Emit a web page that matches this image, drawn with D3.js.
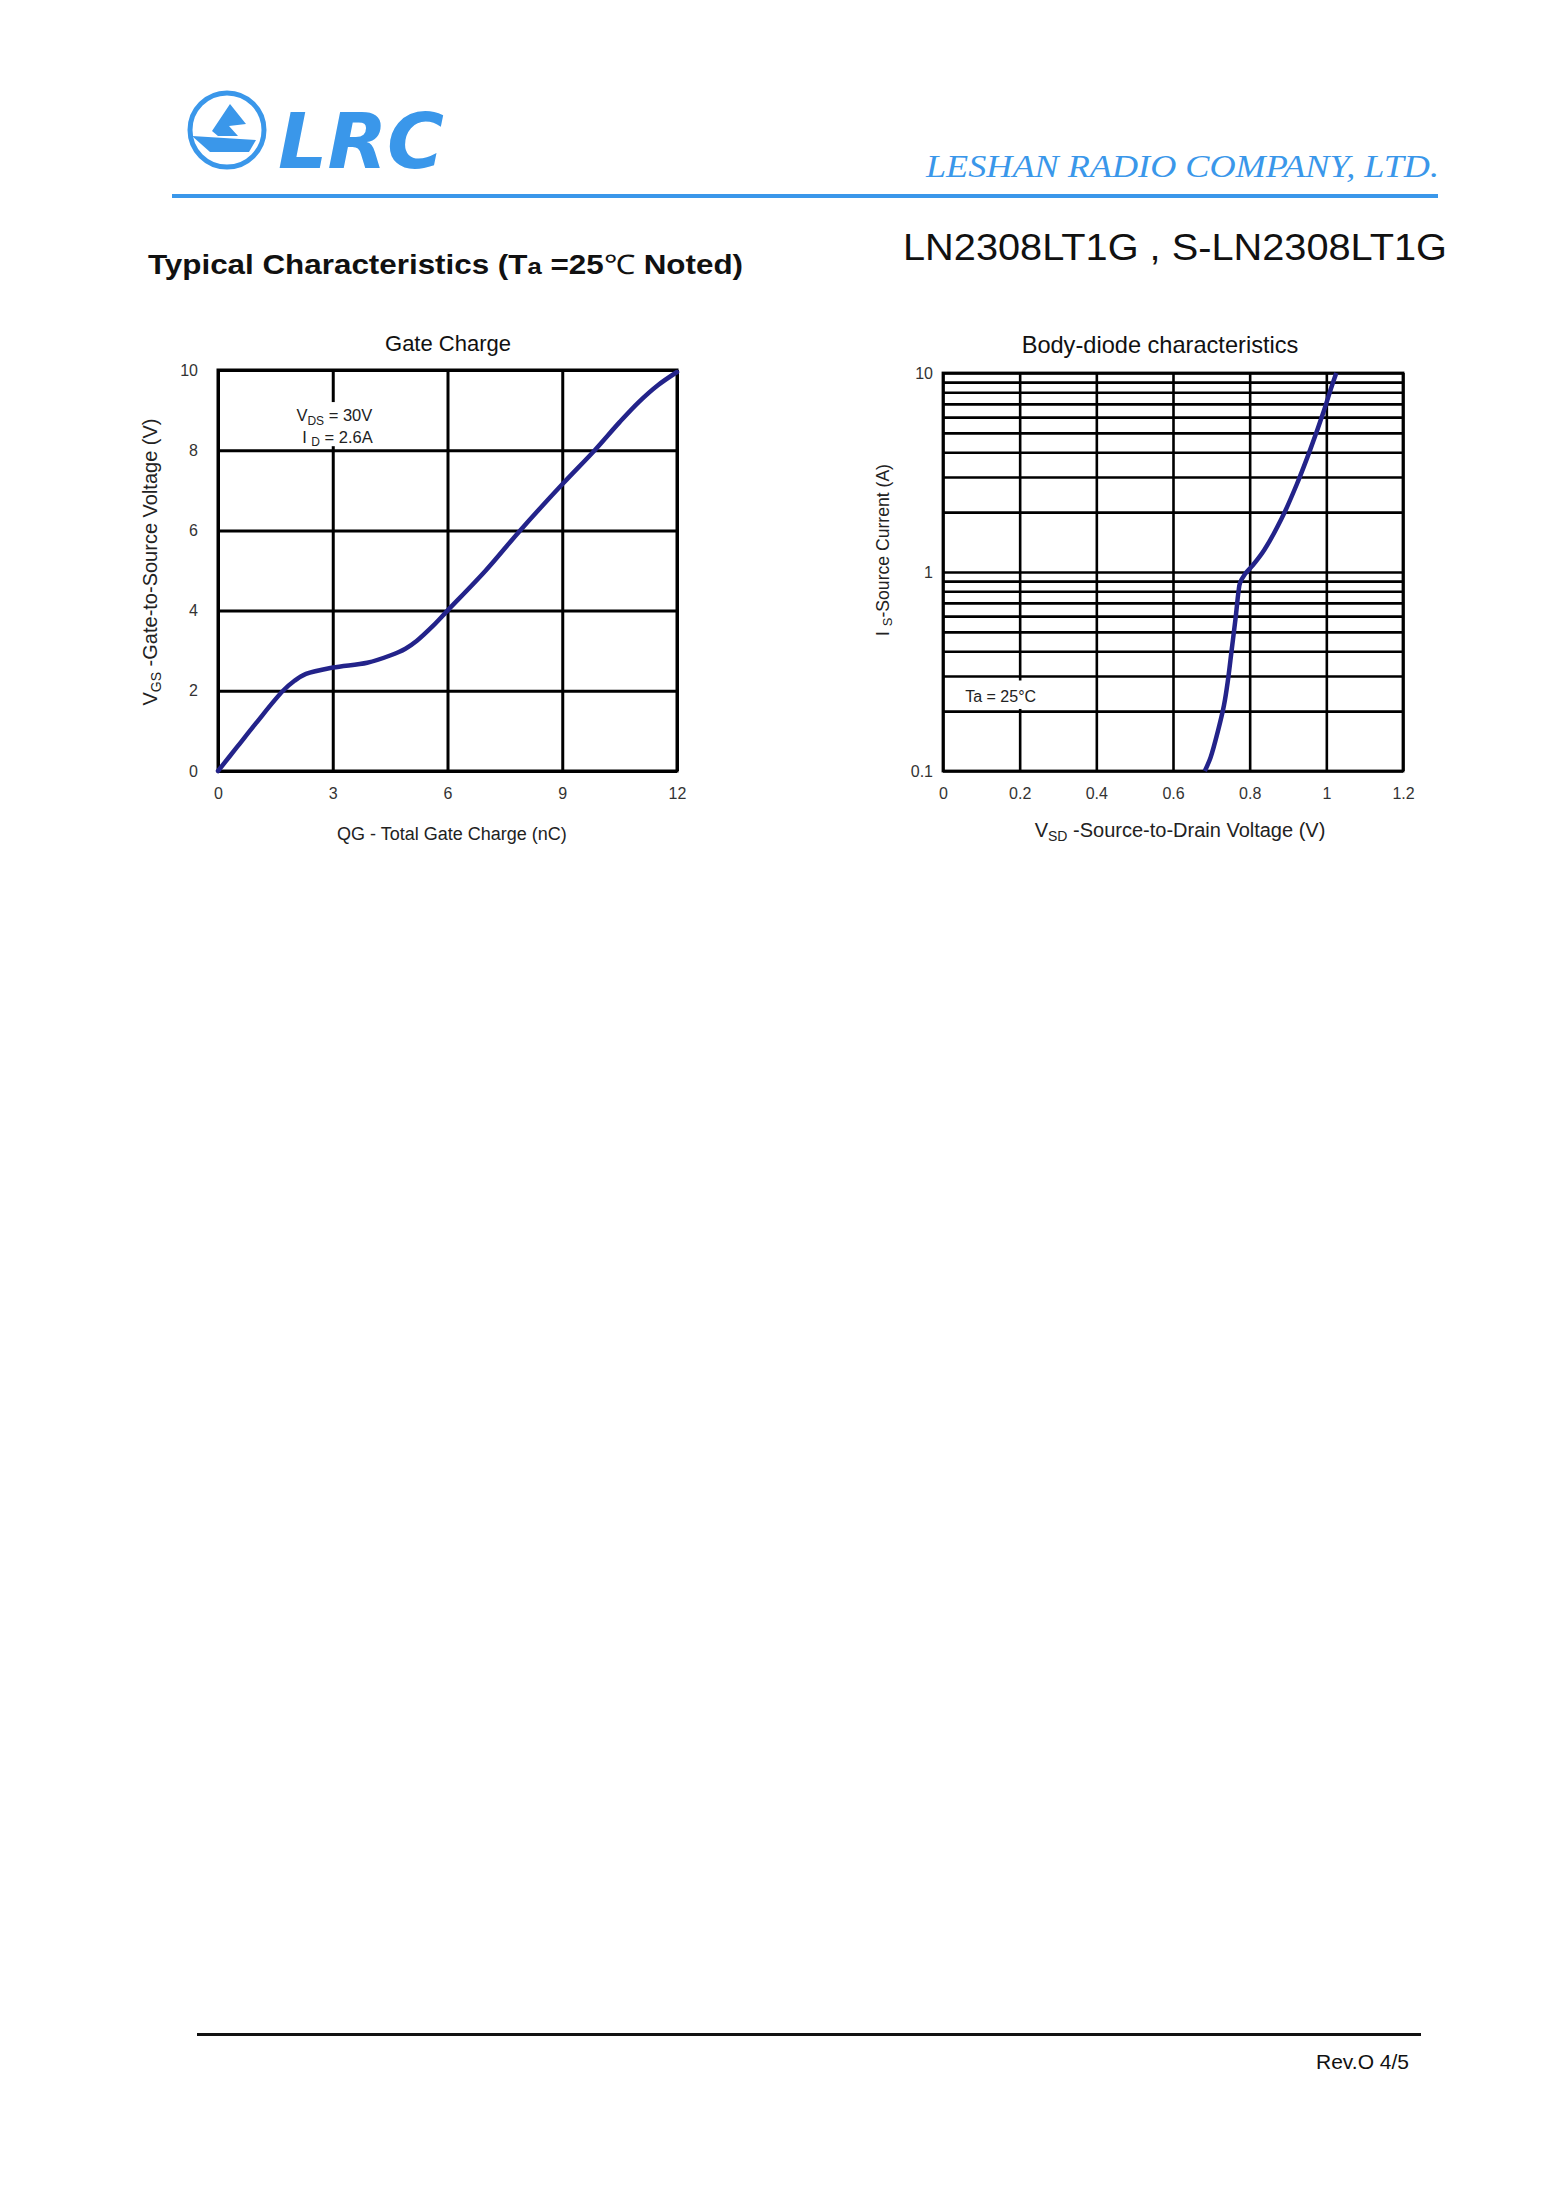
<!DOCTYPE html>
<html>
<head>
<meta charset="utf-8">
<script src="https://cdn.jsdelivr.net/npm/d3@7"></script>
<style>
  html,body{margin:0;padding:0;background:#fff;}
  svg{display:block;}
</style>
</head>
<body>
<svg id="page" width="1555" height="2187"></svg>
<script>
// ---------- DATA ----------
const gateXTicks = [0, 3, 6, 9, 12];
const gateYTicks = [0, 2, 4, 6, 8, 10];
const gateQ   = [0, 0.5, 1.0, 1.7, 2.0, 2.3, 3.0, 3.9, 4.5, 4.9, 5.2, 5.6, 6.0, 7.0, 7.9, 9.0, 9.85, 10.5, 11.0, 11.5, 12.0];
const gateVgs = [0, 0.6, 1.2, 2.0, 2.25, 2.42, 2.58, 2.7, 2.88, 3.05, 3.25, 3.6, 4.0, 5.0, 6.0, 7.15, 8.0, 8.7, 9.2, 9.62, 9.95];

const diodeXTicks = [0, 0.2, 0.4, 0.6, 0.8, 1.0, 1.2];
const diodeXLabels = ["0", "0.2", "0.4", "0.6", "0.8", "1", "1.2"];
const diodeYLabelTicks = [0.1, 1, 10];
const diodeVsd = [0.683, 0.698, 0.718, 0.733, 0.743, 0.753, 0.763, 0.771, 0.775, 0.788, 0.808, 0.838, 0.883, 0.923, 0.958, 0.993, 1.013, 1.026];
const diodeIs  = [0.1, 0.117, 0.161, 0.214, 0.283, 0.405, 0.58, 0.80, 0.883, 0.977, 1.08, 1.29, 1.85, 2.76, 4.12, 6.4, 8.45, 10];

// ---------- PAGE ----------
const svg = d3.select("#page");
const BLUE = "#3a97ea";
const CURVE = "#23238a";
const SANS = "'Liberation Sans', Arial, sans-serif";

// Logo
const logo = svg.append("g");
logo.append("circle").attr("cx", 227).attr("cy", 130).attr("r", 37)
  .attr("fill", "none").attr("stroke", BLUE).attr("stroke-width", 5);
logo.append("path")
  .attr("d", "M230,104 L246,124 L229,126 L238,136 L218,136 L212,131 Z")
  .attr("fill", BLUE);
logo.append("path")
  .attr("d", "M192,136 L256,140 L249,152 L210,152 Z")
  .attr("fill", BLUE);
logo.append("text").attr("x", 278).attr("y", 168)
  .attr("font-family", "'DejaVu Sans', sans-serif").attr("font-weight", "bold")
  .attr("font-style", "italic").attr("font-size", 76)
  .attr("textLength", 166).attr("lengthAdjust", "spacingAndGlyphs")
  .attr("fill", BLUE).text("LRC");

svg.append("text").attr("x", 926).attr("y", 177)
  .attr("font-family", "'Liberation Serif', 'Times New Roman', serif")
  .attr("font-style", "italic").attr("font-size", 31)
  .attr("textLength", 513).attr("lengthAdjust", "spacingAndGlyphs")
  .attr("fill", BLUE).text("LESHAN RADIO COMPANY, LTD.");

svg.append("rect").attr("x", 172).attr("y", 194).attr("width", 1266).attr("height", 4).attr("fill", BLUE);

svg.append("text").attr("x", 903).attr("y", 260)
  .attr("font-family", SANS).attr("font-size", 36)
  .attr("textLength", 544).attr("lengthAdjust", "spacingAndGlyphs")
  .attr("fill", "#111").text("LN2308LT1G , S-LN2308LT1G");

const tc = svg.append("text").attr("x", 148).attr("y", 274)
  .attr("font-family", SANS).attr("font-weight", "bold").attr("font-size", 27)
  .attr("textLength", 595).attr("lengthAdjust", "spacingAndGlyphs")
  .attr("fill", "#111");
tc.append("tspan").text("Typical Characteristics (T");
tc.append("tspan").attr("font-size", 22).text("a");
tc.append("tspan").text(" =25");
tc.append("tspan").attr("font-weight", "normal").text("℃");
tc.append("tspan").text(" Noted)");

// Footer
svg.append("rect").attr("x", 197).attr("y", 2033).attr("width", 1224).attr("height", 3).attr("fill", "#111");
svg.append("text").attr("x", 1409).attr("y", 2069).attr("text-anchor", "end")
  .attr("font-family", SANS).attr("font-size", 21).attr("fill", "#111").text("Rev.O 4/5");

// ---------- GATE CHARGE CHART ----------
const gL = 218, gR = 677, gT = 370, gB = 771;
const xG = d3.scaleLinear().domain([0, 12]).range([gL, gR]);
const yG = d3.scaleLinear().domain([0, 10]).range([gB, gT]);

const g1 = svg.append("g");
g1.append("g").attr("transform", `translate(0,${gB})`)
  .call(d3.axisBottom(xG).tickValues(gateXTicks).tickSize(-(gB - gT)).tickFormat(""))
  .call(a => a.select(".domain").remove())
  .call(a => a.selectAll("line").attr("stroke", "#000").attr("stroke-width", 3));
g1.append("g").attr("transform", `translate(${gL},0)`)
  .call(d3.axisLeft(yG).tickValues(gateYTicks).tickSize(-(gR - gL)).tickFormat(""))
  .call(a => a.select(".domain").remove())
  .call(a => a.selectAll("line").attr("stroke", "#000").attr("stroke-width", 3));
g1.append("rect").attr("x", gL).attr("y", gT).attr("width", gR - gL).attr("height", gB - gT)
  .attr("fill", "none").attr("stroke", "#000").attr("stroke-width", 3);

// annotation (white background interrupts grid)
g1.append("rect").attr("x", xG(2.05)).attr("y", yG(9.2)).attr("width", xG(4.2) - xG(2.05))
  .attr("height", yG(8.1) - yG(9.2)).attr("fill", "#fff");
const ann1 = g1.append("text").attr("x", xG(2.05)).attr("y", yG(8.72))
  .attr("font-family", SANS).attr("font-size", 16.5).attr("fill", "#222");
ann1.append("tspan").text("V");
ann1.append("tspan").attr("font-size", 12).attr("dy", 4).text("DS");
ann1.append("tspan").attr("dy", -4).text(" = 30V");
const ann2 = g1.append("text").attr("x", xG(2.2)).attr("y", yG(8.18))
  .attr("font-family", SANS).attr("font-size", 16.5).attr("fill", "#222");
ann2.append("tspan").text("I ");
ann2.append("tspan").attr("font-size", 12).attr("dy", 3).text("D");
ann2.append("tspan").attr("dy", -3).text("  = 2.6A");

const gatePts = gateQ.map((q, i) => [q, gateVgs[i]]);
g1.append("path").datum(gatePts)
  .attr("d", d3.line().x(d => xG(d[0])).y(d => yG(d[1])).curve(d3.curveCatmullRom.alpha(0.5)))
  .attr("fill", "none").attr("stroke", CURVE).attr("stroke-width", 4.5)
  .attr("stroke-linecap", "round");

g1.append("g").attr("transform", `translate(0,${gB})`)
  .call(d3.axisBottom(xG).tickValues(gateXTicks).tickSize(0).tickPadding(17).tickFormat(d3.format("d")))
  .call(a => a.select(".domain").remove())
  .call(a => a.selectAll("text").attr("font-family", SANS).attr("font-size", 16).attr("fill", "#333"));
g1.append("g").attr("transform", `translate(${gL},0)`)
  .call(d3.axisLeft(yG).tickValues(gateYTicks).tickSize(0).tickPadding(20).tickFormat(d3.format("d")))
  .call(a => a.select(".domain").remove())
  .call(a => a.selectAll("text").attr("font-family", SANS).attr("font-size", 16).attr("fill", "#333"));

g1.append("text").attr("x", 448).attr("y", 351).attr("text-anchor", "middle")
  .attr("font-family", SANS).attr("font-size", 22).attr("fill", "#111").text("Gate Charge");
g1.append("text").attr("x", 452).attr("y", 840).attr("text-anchor", "middle")
  .attr("font-family", SANS).attr("font-size", 18).attr("fill", "#222").text("QG - Total Gate Charge (nC)");
const yl1 = g1.append("text").attr("transform", "translate(157,562) rotate(-90)").attr("text-anchor", "middle")
  .attr("font-family", SANS).attr("font-size", 20).attr("fill", "#222");
yl1.append("tspan").text("V");
yl1.append("tspan").attr("font-size", 14).attr("dy", 4).text("GS");
yl1.append("tspan").attr("dy", -4).text("  -Gate-to-Source Voltage (V)");

// ---------- BODY DIODE CHART ----------
const bL = 943, bR = 1403, bT = 373, bB = 771;
const xB = d3.scaleLinear().domain([0, 1.2]).range([bL, bR]);
const yB = d3.scaleLog().domain([0.1, 10]).range([bB, bT]);

const g2 = svg.append("g");
g2.append("g").attr("transform", `translate(0,${bB})`)
  .call(d3.axisBottom(xB).tickValues(diodeXTicks).tickSize(-(bB - bT)).tickFormat(""))
  .call(a => a.select(".domain").remove())
  .call(a => a.selectAll("line").attr("stroke", "#000").attr("stroke-width", 2.6));
g2.append("g").attr("transform", `translate(${bL},0)`)
  .call(d3.axisLeft(yB).tickValues(yB.ticks()).tickSize(-(bR - bL)).tickFormat(""))
  .call(a => a.select(".domain").remove())
  .call(a => a.selectAll("line").attr("stroke", "#000").attr("stroke-width", 2.6));
g2.append("rect").attr("x", bL).attr("y", bT).attr("width", bR - bL).attr("height", bB - bT)
  .attr("fill", "none").attr("stroke", "#000").attr("stroke-width", 2.8);

g2.append("rect").attr("x", xB(0.055)).attr("y", yB(0.285)).attr("width", xB(0.25) - xB(0.055))
  .attr("height", yB(0.205) - yB(0.285)).attr("fill", "#fff");
g2.append("text").attr("x", xB(0.058)).attr("y", yB(0.222))
  .attr("font-family", SANS).attr("font-size", 16).attr("fill", "#222").text("Ta = 25°C");

const diodePts = diodeVsd.map((v, i) => [v, diodeIs[i]]);
g2.append("path").datum(diodePts)
  .attr("d", d3.line().x(d => xB(d[0])).y(d => yB(d[1])).curve(d3.curveCatmullRom.alpha(0.5)))
  .attr("fill", "none").attr("stroke", CURVE).attr("stroke-width", 4.5)
  .attr("stroke-linecap", "butt");

g2.append("g").attr("transform", `translate(0,${bB})`)
  .call(d3.axisBottom(xB).tickValues(diodeXTicks).tickSize(0).tickPadding(17)
    .tickFormat((d, i) => diodeXLabels[i]))
  .call(a => a.select(".domain").remove())
  .call(a => a.selectAll("text").attr("font-family", SANS).attr("font-size", 16).attr("fill", "#333"));
g2.append("g").attr("transform", `translate(${bL},0)`)
  .call(d3.axisLeft(yB).tickValues(diodeYLabelTicks).tickSize(0).tickPadding(10)
    .tickFormat(d => d === 0.1 ? "0.1" : String(d)))
  .call(a => a.select(".domain").remove())
  .call(a => a.selectAll("text").attr("font-family", SANS).attr("font-size", 16).attr("fill", "#333"));

g2.append("text").attr("x", 1160).attr("y", 353).attr("text-anchor", "middle")
  .attr("font-family", SANS).attr("font-size", 23.6).attr("fill", "#111").text("Body-diode characteristics");
const xl2 = g2.append("text").attr("x", 1180).attr("y", 837).attr("text-anchor", "middle")
  .attr("font-family", SANS).attr("font-size", 20).attr("fill", "#222");
xl2.append("tspan").text("V");
xl2.append("tspan").attr("font-size", 14).attr("dy", 4).text("SD");
xl2.append("tspan").attr("dy", -4).text(" -Source-to-Drain Voltage (V)");
const yl2 = g2.append("text").attr("transform", "translate(889,550) rotate(-90)").attr("text-anchor", "middle")
  .attr("font-family", SANS).attr("font-size", 17.6).attr("fill", "#222");
yl2.append("tspan").text("I ");
yl2.append("tspan").attr("font-size", 13).attr("dy", 3).text("S");
yl2.append("tspan").attr("dy", -3).text("-Source Current (A)");
</script>
</body>
</html>
